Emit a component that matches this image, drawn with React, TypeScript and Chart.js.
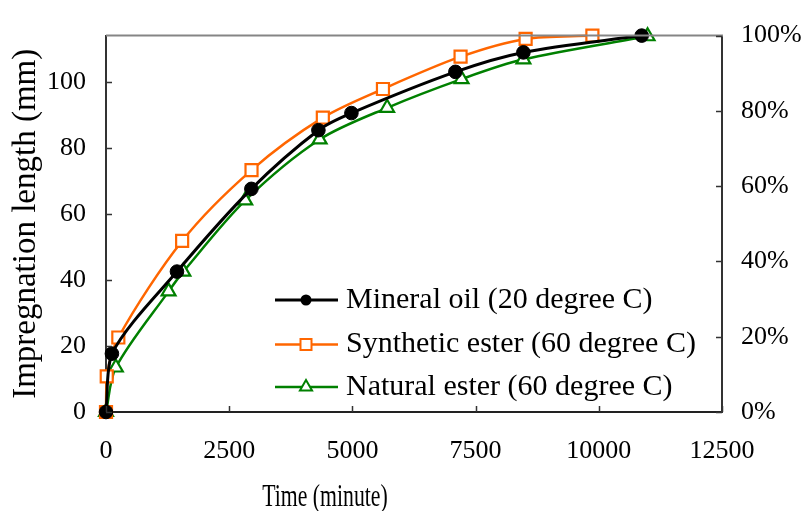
import React, { useEffect, useRef } from 'react';
import { Chart, registerables } from 'chart.js';

Chart.register(...registerables);

// ---- data ----
const seriesLabels = [
  'Mineral oil (20 degree C)',
  'Synthetic ester (60 degree C)',
  'Natural ester (60 degree C)',
];
const mineralTime = [0, 120, 1440, 2950, 4310, 4980, 7090, 8470, 10870];
const mineralLength = [0, 17.7, 42.6, 67.7, 85.5, 90.7, 103.2, 109.1, 114.2];
const syntheticTime = [0, 15, 250, 1545, 2953, 4400, 5620, 7195, 8515, 9870];
const syntheticLength = [0, 10.8, 22.6, 51.9, 73.4, 89.3, 98.0, 107.8, 113.2, 114.2];
const naturalTime = [0, 200, 1270, 1570, 2825, 4335, 5705, 7215, 8470, 10990];
const naturalLength = [0, 13.5, 36.6, 42.6, 64.2, 82.7, 92.3, 101.0, 107.0, 114.0];

const xMin = 0;
const xMax = 12500;
const xStep = 2500;
const yMin = 0;
const yMax = 114.2;
const yStep = 20;
const pctMax = 100;
const pctStep = 20;

const xTitle = 'Time (minute)';
const yTitle = 'Impregnation length (mm)';

const FONT = '"Liberation Serif", "Times New Roman", serif';
const seriesColors = ['#000000', '#ff6600', '#008000'];

const toPoints = (xs: number[], ys: number[]) => xs.map((x, i) => ({ x, y: ys[i] }));

const decorPlugin = {
  id: 'decor',
  afterDraw(chart: any) {
    const { ctx, chartArea: a, scales } = chart;
    ctx.save();
    // top frame line
    ctx.strokeStyle = '#858585';
    ctx.lineWidth = 2;
    ctx.beginPath();
    ctx.moveTo(a.left, a.top);
    ctx.lineTo(a.right + 1, a.top);
    ctx.stroke();

    // inward tick marks
    ctx.strokeStyle = '#333333';
    ctx.lineWidth = 1.5;
    ctx.beginPath();
    scales.x.ticks.forEach((t: any) => {
      const px = Math.round(scales.x.getPixelForValue(t.value)) + 0.5;
      ctx.moveTo(px, a.bottom);
      ctx.lineTo(px, a.bottom - 6);
    });
    scales.y.ticks.forEach((t: any) => {
      const py = Math.round(scales.y.getPixelForValue(t.value)) + 0.5;
      ctx.moveTo(a.left, py);
      ctx.lineTo(a.left + 6, py);
    });
    scales.y2.ticks.forEach((t: any) => {
      const py = Math.round(scales.y2.getPixelForValue(t.value)) + 0.5;
      ctx.moveTo(a.right, py);
      ctx.lineTo(a.right - 6, py);
    });
    ctx.stroke();

    // axis titles
    ctx.fillStyle = '#000';
    ctx.font = `32px ${FONT}`;
    ctx.textAlign = 'center';
    ctx.textBaseline = 'alphabetic';
    ctx.save();
    ctx.translate(325, 506);
    ctx.scale(0.68, 1);
    ctx.fillText(xTitle, 0, 0);
    ctx.restore();

    ctx.save();
    ctx.font = `33px ${FONT}`;
    ctx.translate(35, (a.top + a.bottom) / 2);
    ctx.rotate(-Math.PI / 2);
    ctx.fillText(yTitle, 0, 0);
    ctx.restore();

    // legend
    const rows = [300, 344.5, 387];
    const lx0 = 275;
    const lx1 = 338;
    const mx = 306;
    chart.data.datasets.forEach((ds: any, i: number) => {
      const y = rows[i];
      ctx.strokeStyle = ds.borderColor;
      ctx.lineWidth = ds.borderWidth;
      ctx.beginPath();
      ctx.moveTo(lx0, y);
      ctx.lineTo(lx1, y);
      ctx.stroke();
      ctx.lineWidth = 2;
      ctx.fillStyle = ds.pointBackgroundColor;
      ctx.strokeStyle = ds.pointBorderColor;
      ctx.beginPath();
      if (ds.pointStyle === 'circle') {
        ctx.arc(mx, y, 5.5, 0, Math.PI * 2);
        ctx.fill();
      } else if (ds.pointStyle === 'rect') {
        ctx.rect(mx - 5.5, y - 5.5, 11, 11);
        ctx.fill();
        ctx.stroke();
      } else {
        const r = 7;
        ctx.moveTo(mx, y - r);
        ctx.lineTo(mx + r * 0.866, y + r * 0.5);
        ctx.lineTo(mx - r * 0.866, y + r * 0.5);
        ctx.closePath();
        ctx.fill();
        ctx.stroke();
      }
      ctx.fillStyle = '#000';
      ctx.font = `30px ${FONT}`;
      ctx.textAlign = 'left';
      ctx.textBaseline = 'middle';
      ctx.fillText(ds.label, 346, y);
    });
    ctx.restore();
  },
};

export default function App() {
  const ref = useRef<HTMLCanvasElement | null>(null);

  useEffect(() => {
    if (!ref.current) return;
    const tickFont = { family: FONT, size: 26 };
    const common = {
      tension: 0.3,
      clip: false,
      yAxisID: 'y',
    };
    const chart = new Chart(ref.current, {
      type: 'line',
      data: {
        datasets: [
          {
            ...common,
            label: seriesLabels[0],
            data: toPoints(mineralTime, mineralLength),
            borderColor: seriesColors[0],
            borderWidth: 3,
            pointStyle: 'circle',
            pointRadius: 6.8,
            pointBackgroundColor: seriesColors[0],
            pointBorderColor: seriesColors[0],
            pointBorderWidth: 1,
          },
          {
            ...common,
            label: seriesLabels[1],
            data: toPoints(syntheticTime, syntheticLength),
            borderColor: seriesColors[1],
            borderWidth: 2.5,
            pointStyle: 'rect',
            pointRadius: 8.5,
            pointBackgroundColor: '#ffffff',
            pointBorderColor: seriesColors[1],
            pointBorderWidth: 2.2,
          },
          {
            ...common,
            label: seriesLabels[2],
            data: toPoints(naturalTime, naturalLength),
            borderColor: seriesColors[2],
            borderWidth: 2.5,
            pointStyle: 'triangle',
            pointRadius: 8,
            pointBackgroundColor: '#ffffff',
            pointBorderColor: seriesColors[2],
            pointBorderWidth: 2.2,
          },
        ],
      },
      options: {
        animation: false,
        responsive: false,
        events: [],
        layout: { padding: { top: 23, left: 0, right: 0, bottom: 0 } },
        plugins: {
          legend: { display: false },
          tooltip: { enabled: false },
          title: { display: false },
        },
        scales: {
          x: {
            type: 'linear',
            min: xMin,
            max: xMax,
            ticks: {
              stepSize: xStep,
              font: tickFont,
              color: '#000',
              padding: 24,
              maxRotation: 0,
              callback: (v: any) => String(v),
            },
            grid: { display: true, drawOnChartArea: false, drawTicks: false },
            border: { display: true, color: '#222', width: 2 },
            afterFit: (s: any) => {
              s.height = 99;
            },
          },
          y: {
            type: 'linear',
            position: 'left',
            min: yMin,
            max: yMax,
            ticks: {
              stepSize: yStep,
              includeBounds: false,
              font: tickFont,
              color: '#000',
              padding: 20,
              callback: (v: any) => (v > 100 ? '' : String(v)),
            },
            grid: { display: true, drawOnChartArea: false, drawTicks: false },
            border: { display: true, color: '#333', width: 2 },
            afterFit: (s: any) => {
              s.width = 106;
            },
          },
          y2: {
            type: 'linear',
            position: 'right',
            min: 0,
            max: pctMax,
            ticks: {
              stepSize: pctStep,
              font: tickFont,
              color: '#000',
              padding: 19,
              callback: (v: any) => `${v}%`,
            },
            grid: { display: true, drawOnChartArea: false, drawTicks: false },
            border: { display: true, color: '#333', width: 2 },
            afterFit: (s: any) => {
              s.width = 83;
            },
          },
        },
      },
      plugins: [decorPlugin],
    } as any);
    return () => chart.destroy();
  }, []);

  return (
    <div style={{ position: 'absolute', left: 0, top: 0, width: 805, height: 511, background: '#fff' }}>
      <canvas ref={ref} width={805} height={511} style={{ display: 'block' }} />
    </div>
  );
}
